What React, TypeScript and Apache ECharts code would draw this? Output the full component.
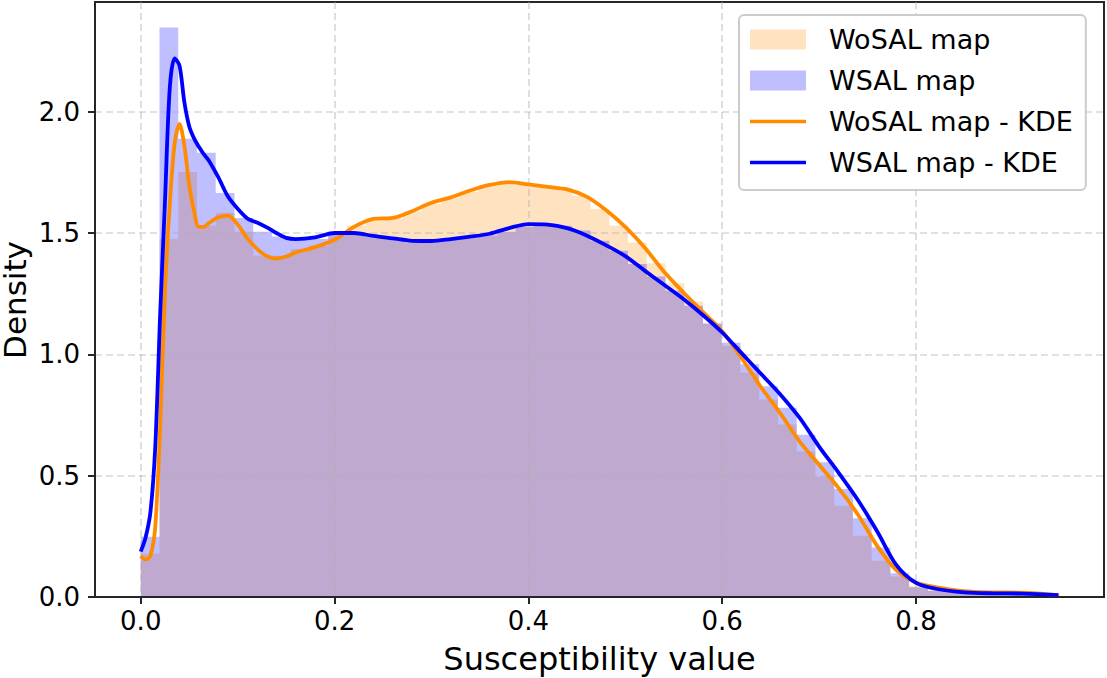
import React, { useEffect, useRef } from "react";
import * as echarts from "echarts";

// Histogram bins (density), 49 equal bins starting at 0
const BIN_START = 0;
const BIN_WIDTH = 0.01934;
const histWoSAL = [
  0.178, 1.475, 1.751, 1.53, 1.583, 1.505, 1.406, 1.406, 1.434, 1.447,
  1.5, 1.53, 1.56, 1.56, 1.59, 1.62, 1.645, 1.67, 1.695, 1.71,
  1.7, 1.69, 1.685, 1.654, 1.599, 1.53, 1.461, 1.375, 1.293, 1.218,
  1.127, 1.034, 0.924, 0.814, 0.711, 0.6, 0.497, 0.376, 0.252, 0.149,
  0.084, 0.045, 0.03, 0.024, 0.021, 0.019, 0.018, 0.016, 0.01,
];
const histWSAL = [
  0.248, 2.347, 1.888, 1.831, 1.665, 1.562, 1.505, 1.486, 1.475, 1.475,
  1.5, 1.5, 1.49, 1.48, 1.47, 1.468, 1.475, 1.478, 1.49, 1.505,
  1.525, 1.54, 1.53, 1.51, 1.468, 1.427, 1.372, 1.321, 1.262, 1.2,
  1.127, 1.048, 0.959, 0.869, 0.78, 0.669, 0.555, 0.445, 0.325, 0.204,
  0.098, 0.04, 0.025, 0.02, 0.017, 0.015, 0.014, 0.013, 0.009,
];

// KDE curves
const kdeX = [
  0, 0.005, 0.01, 0.015, 0.02, 0.025, 0.03, 0.035, 0.04, 0.045,
  0.05, 0.055, 0.06, 0.065, 0.07, 0.08, 0.09, 0.1, 0.11, 0.12,
  0.13, 0.14, 0.15, 0.16, 0.18, 0.2, 0.22, 0.24, 0.26, 0.28,
  0.3, 0.32, 0.34, 0.36, 0.38, 0.4, 0.42, 0.44, 0.46, 0.48,
  0.5, 0.52, 0.54, 0.56, 0.58, 0.6, 0.62, 0.64, 0.66, 0.68,
  0.7, 0.72, 0.74, 0.76, 0.78, 0.8, 0.82, 0.85, 0.88, 0.91, 0.947,
];
const kdeWoSAL = [
  0.169, 0.155, 0.17, 0.29, 0.7, 1.26, 1.62, 1.87, 1.95, 1.86,
  1.7, 1.59, 1.525, 1.525, 1.54, 1.565, 1.572, 1.535, 1.478, 1.435,
  1.405, 1.395, 1.403, 1.42, 1.442, 1.472, 1.525, 1.558, 1.562, 1.59,
  1.625, 1.647, 1.675, 1.698, 1.71, 1.7, 1.69, 1.68, 1.65, 1.595,
  1.525, 1.44, 1.34, 1.255, 1.175, 1.095, 0.985, 0.865, 0.757, 0.64,
  0.545, 0.45, 0.34, 0.21, 0.11, 0.06, 0.041, 0.024, 0.019, 0.018, 0.008,
];
const kdeWSAL = [
  0.187, 0.245, 0.35, 0.62, 1.16, 1.63, 2.1, 2.22, 2.19, 2.04,
  1.94, 1.89, 1.855, 1.825, 1.8, 1.73, 1.65, 1.6, 1.56, 1.543,
  1.523, 1.5, 1.48, 1.475, 1.482, 1.5, 1.5, 1.488, 1.478, 1.468,
  1.467, 1.475, 1.485, 1.497, 1.52, 1.537, 1.535, 1.52, 1.49, 1.45,
  1.405, 1.345, 1.287, 1.228, 1.162, 1.09, 1.005, 0.92, 0.835, 0.738,
  0.62, 0.513, 0.4, 0.27, 0.13, 0.058, 0.034, 0.019, 0.015, 0.014, 0.008,
];

const xTicks = [0, 0.2, 0.4, 0.6, 0.8];
const yTicks = [0, 0.5, 1.0, 1.5, 2.0];
const X_MIN = -0.0472;
const X_MAX = 0.994;
const Y_MIN = 0;
const Y_MAX = 2.452;
const Y_LABEL = "Density";

const FONT = "DejaVu Sans";
const AXIS_COLOR = "#262626";
const GRID_COLOR = "rgba(176,176,176,0.5)";

function stepData(h: number[]) {
  const pts = h.map((v, i) => [BIN_START + i * BIN_WIDTH, v]);
  pts.push([BIN_START + h.length * BIN_WIDTH, h[h.length - 1]]);
  return pts;
}

export default function App() {
  const ref = useRef<HTMLDivElement>(null);

  useEffect(() => {
    if (!ref.current) return;
    const chart = echarts.init(ref.current, null, { renderer: "svg" });
    const option: any = {
      animation: false,
      textStyle: { fontFamily: FONT },
      grid: {
        left: 95,
        right: 3,
        top: 2,
        bottom: 81,
        show: true,
        borderColor: AXIS_COLOR,
        borderWidth: 2,
        backgroundColor: "transparent",
        containLabel: false,
        outerBoundsMode: "none",
      },
      graphic: [
        {
          type: "text",
          x: 15,
          y: 300,
          rotation: Math.PI / 2,
          silent: true,
          style: {
            text: Y_LABEL,
            fontSize: 31,
            fontFamily: FONT,
            fill: "#000",
            align: "center",
            verticalAlign: "middle",
          },
        },
      ],
      xAxis: {
        type: "value",
        min: X_MIN,
        max: X_MAX,
        z: 2,
        name: "Susceptibility value",
        nameLocation: "middle",
        nameGap: 46,
        nameTextStyle: { fontSize: 32, color: "#000", fontFamily: FONT },
        axisLine: { show: true, onZero: false, lineStyle: { color: AXIS_COLOR, width: 2 } },
        axisTick: {
          show: true,
          inside: false,
          length: 7,
          customValues: xTicks,
          lineStyle: { color: AXIS_COLOR, width: 2 },
        },
        axisLabel: {
          customValues: xTicks,
          formatter: (v: number) => v.toFixed(1),
          fontSize: 26,
          color: "#000",
          margin: 11,
          fontFamily: FONT,
        },
        splitLine: {
          show: true,
          lineStyle: { color: GRID_COLOR, width: 1.6, type: [7, 4] },
        },
      },
      yAxis: {
        type: "value",
        min: Y_MIN,
        max: Y_MAX,
        z: 2,
        axisLine: { show: true, onZero: false, lineStyle: { color: AXIS_COLOR, width: 2 } },
        axisTick: {
          show: true,
          inside: false,
          length: 7,
          customValues: yTicks,
          lineStyle: { color: AXIS_COLOR, width: 2 },
        },
        axisLabel: {
          customValues: yTicks,
          formatter: (v: number) => v.toFixed(1),
          fontSize: 26,
          color: "#000",
          margin: 15,
          fontFamily: FONT,
        },
        splitLine: {
          show: true,
          lineStyle: { color: GRID_COLOR, width: 1.6, type: [7, 4] },
        },
      },
      legend: {
        orient: "vertical",
        left: 739,
        top: 15,
        padding: [11, 13, 14, 11],
        itemWidth: 56,
        itemHeight: 20,
        itemGap: 14,
        backgroundColor: "#ffffff",
        borderColor: "#cccccc",
        borderWidth: 2,
        borderRadius: 5,
        selectedMode: false,
        z: 10,
        textStyle: {
          fontSize: 27,
          color: "#000",
          fontFamily: FONT,
          padding: [0, 0, 0, 18],
        },
        data: [
          { name: "WoSAL map", icon: "path://M0 0H56V20H0Z" },
          { name: "WSAL map", icon: "path://M0 0H56V20H0Z" },
          { name: "WoSAL map - KDE", icon: "path://M0 0H60V4H0Z" },
          { name: "WSAL map - KDE", icon: "path://M0 0H60V4H0Z" },
        ],
      },
      series: [
        {
          name: "WoSAL map",
          type: "line",
          step: "end",
          z: 1,
          silent: true,
          showSymbol: false,
          symbol: "none",
          data: stepData(histWoSAL),
          itemStyle: { color: "rgba(255,140,0,0.25)" },
          lineStyle: { width: 0, opacity: 0 },
          areaStyle: { color: "rgba(255,140,0,0.25)", opacity: 1 },
        },
        {
          name: "WSAL map",
          type: "line",
          step: "end",
          z: 1,
          silent: true,
          showSymbol: false,
          symbol: "none",
          data: stepData(histWSAL),
          itemStyle: { color: "rgba(0,0,255,0.25)" },
          lineStyle: { width: 0, opacity: 0 },
          areaStyle: { color: "rgba(0,0,255,0.25)", opacity: 1 },
        },
        {
          name: "WoSAL map - KDE",
          type: "line",
          z: 3,
          silent: true,
          smooth: 0.3,
          showSymbol: false,
          symbol: "none",
          data: kdeX.map((x, i) => [x, kdeWoSAL[i]]),
          itemStyle: { color: "#ff8c00" },
          lineStyle: { color: "#ff8c00", width: 3.8 },
        },
        {
          name: "WSAL map - KDE",
          type: "line",
          z: 3,
          silent: true,
          smooth: 0.3,
          showSymbol: false,
          symbol: "none",
          data: kdeX.map((x, i) => [x, kdeWSAL[i]]),
          itemStyle: { color: "#0000ff" },
          lineStyle: { color: "#0000ff", width: 3.8 },
        },
      ],
    };
    chart.setOption(option);
    return () => chart.dispose();
  }, []);

  return (
    <div
      ref={ref}
      style={{ position: "fixed", left: 0, top: 0, width: 1107, height: 678, background: "#fff" }}
    />
  );
}
